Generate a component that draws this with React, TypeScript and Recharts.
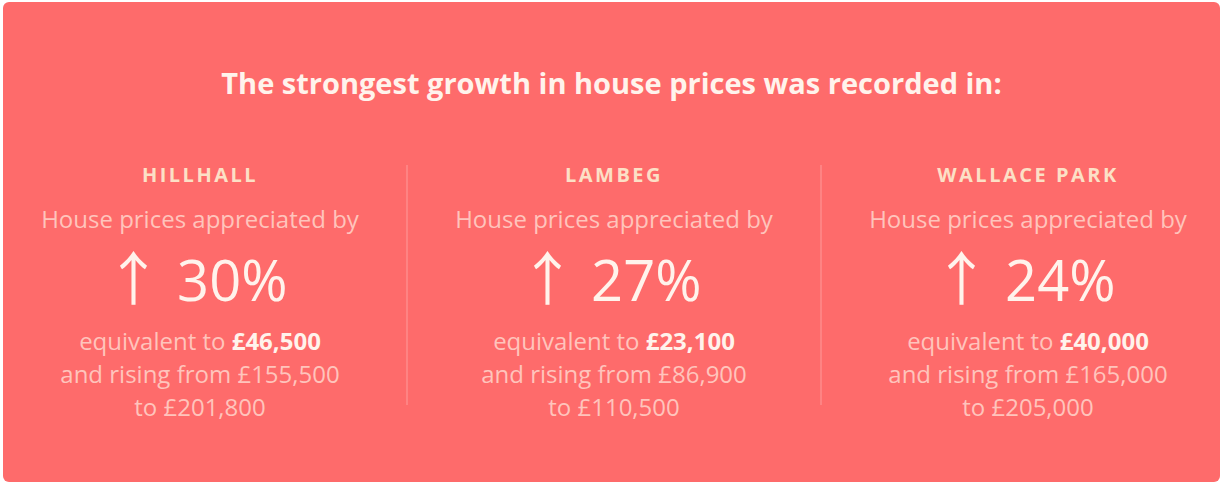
import React from 'react';
import { ComposedChart, Bar, XAxis, YAxis, ReferenceLine } from 'recharts';

const titleText = 'The strongest growth in house prices was recorded in:';
const areaNames = ['HILLHALL', 'LAMBEG', 'WALLACE PARK'];
const growthPct = [30, 27, 24];
const increaseGBP = [46500, 23100, 40000];
const priceFromGBP = [155500, 86900, 165000];
const priceToGBP = [201800, 110500, 205000];
const dividerBefore = ['LAMBEG', 'WALLACE PARK'];

const data = areaNames.map((name, i) => ({
  name,
  growth: growthPct[i],
}));

const fmt = (v: number) => '£' + v.toLocaleString('en-GB');

const BG = '#FE6B6B';
const BRIGHT = '#FFF3EC';
const NAME = '#FCE0C6';
const FADED = '#FFC4BC';
const FONT = '"Open Sans", sans-serif';

const AreaTick = (props: any) => {
  const { x, y, payload } = props;
  const i = payload.index;
  return (
    <g fontFamily={FONT} textAnchor="middle">
      <text x={x} y={y + 17} fill={NAME} fontSize={20} fontWeight={700} letterSpacing={2.5}>
        {areaNames[i]}
      </text>
      <text x={x} y={y + 63} fill={FADED} fontSize={24}>
        House prices appreciated by
      </text>
      <text x={x - 4} y={y + 136} fill={BRIGHT} fontSize={56} fontWeight={400}>
        <tspan fontFamily='"Noto Sans CJK SC", sans-serif' fontSize={58} dy={-1}>↑</tspan>
        <tspan dy={1}> {growthPct[i] + '%'}</tspan>
      </text>
      <text x={x} y={y + 185} fontSize={24}>
        <tspan fill={FADED}>equivalent to </tspan>
        <tspan fill={BRIGHT} fontWeight={700}>{fmt(increaseGBP[i])}</tspan>
      </text>
      <text x={x} y={y + 218} fill={FADED} fontSize={24}>
        {'and rising from ' + fmt(priceFromGBP[i])}
      </text>
      <text x={x} y={y + 251} fill={FADED} fontSize={24}>
        {'to ' + fmt(priceToGBP[i])}
      </text>
    </g>
  );
};

export default function App() {
  return (
    <div style={{ position: 'fixed', left: 0, top: 0, width: 1223, height: 485, overflow: 'hidden', background: '#ffffff' }}>
      <div style={{ position: 'absolute', left: 3, top: 2, right: 3, bottom: 3, background: BG, borderRadius: 6 }} />
      <div
        style={{
          position: 'absolute',
          left: 0,
          width: 1223,
          top: 63,
          textAlign: 'center',
          fontFamily: FONT,
          fontWeight: 700,
          fontSize: 29,
          color: BRIGHT,
          lineHeight: '40px',
        }}
      >
        {titleText}
      </div>
      <div style={{ position: 'absolute', left: -7, top: 0 }}>
        <ComposedChart width={1242} height={485} data={data} margin={{ top: 135, right: 0, bottom: 80, left: 0 }}>
          <XAxis
            dataKey="name"
            orientation="top"
            height={30}
            axisLine={false}
            tickLine={false}
            tickSize={0}
            tickMargin={0}
            interval={0}
            tick={<AreaTick />}
          />
          <YAxis hide domain={[0, 100]} />
          <Bar dataKey="growth" fill="transparent" isAnimationActive={false} />
          {dividerBefore.map((p) => (
            <ReferenceLine key={p} x={p} position="start" stroke="rgba(255,255,255,0.22)" strokeWidth={1.5} />
          ))}
        </ComposedChart>
      </div>
    </div>
  );
}
